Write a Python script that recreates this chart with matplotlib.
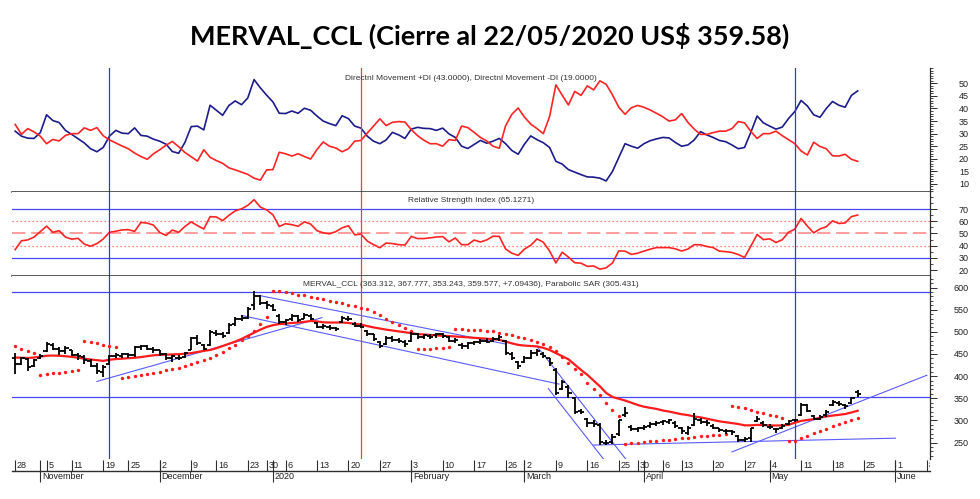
import numpy as np
import pandas as pd
import matplotlib
matplotlib.use("Agg")
import matplotlib.pyplot as plt
from matplotlib.ticker import MultipleLocator, FixedLocator

W, H, DPI = 980, 499, 100

# ---------------- calendar (trading days shown on the axis) ----------------
holidays = ["2019-11-04", "2019-11-18", "2019-12-10", "2019-12-24", "2019-12-25",
            "2019-12-31", "2020-01-01", "2020-02-24", "2020-02-25", "2020-03-23",
            "2020-03-24", "2020-03-31", "2020-04-09", "2020-04-10", "2020-05-01"]
axis_dates = pd.bdate_range("2019-10-28", "2020-06-08")
axis_dates = axis_dates[~axis_dates.isin(pd.to_datetime(holidays))]

month_names = {1: "2020", 2: "February", 3: "March", 4: "April", 5: "May",
               6: "June", 11: "November", 12: "December"}

# ---------------- data ----------------
di_plus = [31, 29, 28.2, 28.1, 30.4, 37.5, 35.2, 34.4, 31.3, 29.7,
           28, 26.3, 24, 22.8, 24.5, 29, 31.3, 30.2, 30, 32.3,
           29.3, 29, 27.8, 27, 25.8, 22.9, 22.2, 26.5, 32.8, 33,
           31.5, 41.3, 39.3, 37.3, 41.2, 43, 41.5, 44.2, 51.5, 48.2,
           45.3, 42.6, 38.1, 38, 39, 38.1, 40.1, 39.3, 37, 35,
           34, 33.2, 37.1, 36, 33, 32.2, 29, 27, 26, 27.5,
           30.5, 29.5, 28.1, 31.8, 32.5, 32.1, 32, 31.3, 32.2, 29.9,
           28.5, 25, 24.1, 25.7, 27.3, 26.2, 27, 28.1, 26, 23.3,
           21.8, 25.8, 29.1, 27.6, 26.4, 24.5, 19, 17.9, 15.7, 14.7,
           13.7, 12.8, 12.7, 12.3, 11.2, 15, 20.5, 26, 25, 24.2,
           26, 27.2, 27.9, 28.5, 28.3, 26.5, 25, 25.5, 27.5, 30.8,
           29.5, 28.5, 27.3, 26.8, 25.5, 24, 24.5, 30.5, 37, 34.3,
           33, 31.8, 32.6, 36, 38.8, 43.2, 41, 37.5, 36.5, 40,
           42.8, 41.3, 40.5, 45.2, 47]

di_minus = [33.7, 29.7, 32, 30.7, 29, 26, 27.7, 27.1, 29.3, 30,
            30, 32.3, 31.3, 32.4, 29.2, 27.5, 26.3, 25.1, 24, 22.3,
            20.9, 19.8, 22, 23.6, 25.4, 26.9, 24.8, 22.5, 20.8, 19.1,
            23.6, 20.6, 19.3, 18.2, 16.4, 15.6, 14.7, 13.8, 12.3, 11.5,
            15.6, 15.7, 22.6, 22, 21.1, 22, 20.9, 19.9, 23.7, 26.7,
            25, 24.3, 22.8, 24, 27, 27.3, 30.2, 33, 35.9, 33.2,
            34.5, 34.8, 34.6, 31.6, 29.2, 27.4, 26, 26, 25, 27.6,
            27.3, 33, 32.4, 30.5, 28.5, 27.1, 25, 24.2, 33.1, 37.7,
            40.2, 36.6, 33.8, 32, 30, 36.8, 49.4, 45.3, 41.4, 46.8,
            45.2, 49, 47.4, 51, 49.6, 45.4, 40.5, 37.7, 40.3, 41.2,
            40.5, 39.4, 38.1, 36.7, 35, 35.5, 38, 34.5, 31.8, 29.7,
            29.7, 30.4, 31, 31, 32, 34.8, 34.3, 30.9, 28.1, 30,
            30, 31, 29.2, 27.6, 26, 23.1, 21.5, 26.6, 24.9, 24,
            21.2, 21.1, 21.8, 19.8, 19]

rsi = [36.7, 44, 44.7, 47, 51.5, 56, 50.9, 52.3, 47, 45.3,
       46, 41.3, 39.5, 41.7, 45.4, 51, 51.8, 52.9, 53.1, 51.7,
       59, 58.5, 56.8, 50.8, 48.4, 52.8, 50.9, 55.7, 59.5, 56.4,
       53.7, 63.8, 63.5, 60.5, 64.9, 68.5, 70.2, 73, 77.7, 71.6,
       69.3, 65.3, 55.7, 58, 57.2, 55.9, 59.5, 57.7, 52.3, 50.5,
       49.7, 51.5, 54.6, 56.3, 48.9, 49.4, 43.8, 40.8, 38.3, 42.1,
       41.7, 40.8, 40.5, 47.6, 45.8, 45.8, 46.4, 47.1, 47.4, 43.1,
       46.3, 40.8, 40.8, 44.6, 43, 44.7, 47.7, 47.6, 37.2, 33.8,
       32, 37.2, 40.3, 45.5, 42.8, 35.6, 25.8, 34.6, 30.6, 26,
       25.6, 23, 23.3, 20.7, 21.8, 25.8, 35.7, 35.5, 32.8, 33.8,
       35.5, 37.1, 38.4, 38.4, 38.4, 37.4, 35.6, 37.2, 40.8, 40.7,
       39.3, 38.4, 35.5, 35.1, 34.4, 32.7, 30.3, 39.5, 49.2, 44.9,
       45.6, 42.6, 44.8, 51, 53.5, 62.3, 56, 50.5, 53.7, 55.5,
       60.3, 58.2, 58.6, 63.8, 65.1]

price_open = [440, 428, 438, 422, 440, 456, 470, 462, 456, 458,
              448, 444, 434, 424, 410, 428, 446, 446, 450, 447,
              466, 468, 462, 458, 450, 440, 442, 444, 460, 485,
              470, 470, 498, 494, 498, 518, 530, 532, 560, 580,
              566, 558, 535, 522, 528, 535, 530, 536, 520, 512,
              512, 508, 522, 530, 518, 514, 502, 494, 478, 472,
              486, 482, 478, 480, 494, 488, 490, 492, 494, 488,
              480, 470, 468, 474, 476, 480, 480, 484, 480, 450,
              432, 432, 440, 452, 450, 440, 414, 372, 376, 350,
              322, 304, 294, 290, 250, 252, 270, 312, 286, 280,
              282, 288, 292, 296, 296, 294, 282, 272, 290, 302,
              296, 288, 282, 276, 276, 264, 256, 260, 298, 294,
              286, 280, 282, 292, 300, 312, 334, 310, 304, 312,
              334, 340, 334, 340, 363.312]

price_high = [452, 444, 440, 438, 450, 478, 474, 465, 467, 460,
              452, 447, 438, 430, 425, 448, 452, 452, 453, 468,
              470, 470, 465, 460, 452, 448, 448, 455, 488, 492,
              472, 505, 504, 500, 520, 533, 537, 555, 593, 584,
              570, 562, 540, 530, 540, 538, 542, 540, 522, 518,
              515, 512, 536, 535, 522, 520, 505, 496, 480, 490,
              490, 486, 482, 500, 498, 496, 494, 498, 498, 490,
              486, 474, 478, 480, 484, 486, 488, 493, 482, 455,
              434, 446, 458, 462, 455, 442, 418, 392, 380, 354,
              326, 306, 300, 294, 256, 270, 302, 331, 290, 286,
              290, 296, 298, 302, 304, 298, 286, 288, 316, 306,
              300, 292, 284, 280, 278, 268, 262, 284, 310, 298,
              292, 284, 292, 300, 304, 339, 336, 312, 312, 324,
              346, 344, 338, 354, 367.777]

price_low = [405, 426, 412, 420, 438, 455, 458, 448, 450, 446,
             436, 428, 420, 404, 399, 426, 440, 442, 442, 444,
             458, 460, 452, 446, 436, 432, 436, 440, 458, 470,
             458, 468, 490, 486, 495, 514, 525, 530, 550, 560,
             552, 546, 518, 515, 525, 522, 528, 526, 508, 506,
             505, 502, 520, 525, 510, 508, 490, 480, 463, 470,
             478, 474, 466, 478, 484, 484, 484, 486, 486, 476,
             474, 462, 462, 470, 472, 474, 476, 480, 448, 436,
             416, 430, 438, 446, 440, 424, 358, 368, 350, 314,
             314, 286, 286, 244, 244, 246, 266, 308, 276, 274,
             278, 284, 288, 290, 292, 282, 270, 268, 288, 292,
             288, 280, 274, 270, 268, 252, 252, 252, 296, 286,
             280, 272, 280, 290, 296, 310, 318, 300, 300, 308,
             332, 332, 326, 338, 353.243]

price_close = [428, 440, 420, 436, 446, 472, 462, 456, 463, 448,
               445, 436, 424, 412, 420, 446, 448, 450, 447, 466,
               468, 462, 458, 450, 440, 445, 440, 452, 485, 474,
               462, 500, 494, 490, 515, 528, 532, 552, 580, 566,
               560, 550, 522, 526, 535, 526, 538, 530, 512, 514,
               508, 506, 532, 528, 514, 512, 495, 484, 468, 486,
               482, 480, 472, 496, 488, 492, 488, 494, 490, 480,
               482, 468, 474, 476, 480, 478, 484, 488, 452, 442,
               424, 440, 452, 456, 446, 430, 362, 386, 362, 318,
               320, 295, 292, 252, 248, 262, 300, 316, 280, 284,
               286, 292, 294, 298, 300, 288, 276, 284, 304, 296,
               294, 284, 278, 276, 274, 256, 258, 282, 304, 290,
               286, 280, 288, 298, 302, 334, 322, 304, 308, 320,
               342, 336, 332, 350, 359.577]

moving_avg = [442, 441.5, 441, 442, 444, 446, 446.5, 446, 445, 443.5,
              441.5, 439.5, 437.5, 436, 434.5, 437, 438.5, 439.5, 440.5, 441.5,
              443, 445, 447, 448, 448.5, 449, 449.5, 450.5, 452, 454.5,
              457, 459, 463, 468, 473, 478, 484, 491, 498, 505,
              511, 515, 517.5, 518.5, 520, 521, 522.5, 524.5, 523.5, 521.5,
              521, 521, 521, 520, 518, 516.5, 513, 510, 507.5, 505,
              503, 501, 499, 497, 495, 494, 493, 492, 491, 490.5,
              489.5, 488.5, 487.5, 486.5, 485.5, 484.5, 483.5, 482, 478, 474,
              470.5, 469, 468, 467, 464, 459, 452, 445, 438, 426,
              414, 403, 390, 377, 362, 353, 349, 345, 340, 335,
              331, 328.5, 326, 322.5, 320, 317, 314, 312, 309, 307,
              304, 301, 298, 296, 294, 292, 289, 289, 290, 289.5,
              289, 288.5, 289, 290, 295, 299, 301, 303, 306, 309,
              311, 312.6, 314.5, 318, 322]

parabolic_sar = [468, 462, 457, 453,
                 403, 404.5, 406, 407.5, 409.5, 411.5, 414,
                 480, 477, 474, 471, 468, 465,
                 396, 398, 400, 402.5, 405, 407.5, 410, 413, 416, 419.5, 423, 427,
                 431, 436.5, 441.5, 448, 455, 463, 471, 481, 491, 501, 518, 534,
                 593, 591.5, 589.5, 587, 584, 582, 579, 576.5, 573.5, 570, 567, 564,
                 561, 558, 554.5, 551, 545, 538, 530, 522, 515, 508, 503,
                 461, 461.5, 462, 463, 464, 465,
                 506, 505.5, 505, 504.5, 503.5, 502.5, 501, 497.5, 495, 492, 489,
                 485, 481, 478, 472, 465, 457, 444, 429, 416, 405, 385, 370, 357,
                 339, 324, 310,
                 246.5, 248, 249.5, 251, 252.5, 254, 255.5, 257, 258.5, 260, 261.5,
                 263, 264.5, 266, 267, 268, 269,
                 333, 330, 327, 324, 320, 317, 313, 309, 305,
                 253.5, 254, 261, 266, 271, 276, 281, 287, 292, 297, 301.5, 305.4]

# trend lines drawn on the price chart: (day index start, price start, day index end, price end)
trend_x0 = [13, 39, 36, 84.8, 83, 92, 114]
trend_y0 = [388, 581.5, 537, 372, 467, 244.5, 229]
trend_x1 = [48.8, 78, 86.5, 95.5, 98.5, 140, 145]
trend_y1 = [532, 472.5, 382, 178, 188, 260, 402]
price_hlines = [591, 352]

marker_dates = ["2019-11-20", "2020-01-22", "2020-05-08"]
marker_colors = ["#3535ff", "#ff3b3b", "#3535ff"]

rsi_levels_solid = [70, 30]
rsi_levels_dotted = [60, 40]
rsi_level_dashed = [50]

title_str = "MERVAL_CCL (Cierre al 22/05/2020 US$ 359.58)"
di_title = "Directnl Movement +DI (43.0000), Directnl Movement -DI (19.0000)"
rsi_title = "Relative Strength Index (65.1271)"
price_title = ("MERVAL_CCL (363.312, 367.777, 353.243, 359.577, +7.09436), "
               "Parabolic SAR (305.431)")

# ---------------- figure ----------------
SMALL = "Liberation Sans"
fig = plt.figure(figsize=(W / DPI, H / DPI), dpi=DPI)
fig.patch.set_facecolor("white")


def px_axes(top, bottom, left=12, right=930):
    return fig.add_axes([left / W, 1 - bottom / H, (right - left) / W, (bottom - top) / H])


def fx(xp):
    return xp / W


def fy(yp):
    return 1 - yp / H


n_axis = len(axis_dates)
xlim = (-0.5, n_axis - 0.5)
xd = np.arange(len(price_close))
date_index = {d: i for i, d in enumerate(axis_dates)}
marker_idx = [date_index[pd.Timestamp(d)] for d in marker_dates]

ax1 = px_axes(68, 192)
ax2 = px_axes(192, 276)
ax3 = px_axes(276, 459)
ax4 = px_axes(459, 499)

SEP = "#2e2e2e"
for ax in (ax1, ax2, ax3):
    ax.set_xlim(*xlim)
    ax.set_facecolor("white")
    ax.spines["left"].set_visible(False)
    ax.spines["top"].set_visible(False)
    ax.spines["right"].set_color(SEP)
    ax.spines["right"].set_linewidth(0.9)
    ax.spines["bottom"].set_color(SEP)
    ax.spines["bottom"].set_linewidth(1.1)
    ax.set_xticks([])
    ax.yaxis.tick_right()
    ax.tick_params(axis="y", which="major", length=5, width=0.7, color=SEP,
                   labelsize=6.5, labelcolor="#222222", pad=23)
    ax.tick_params(axis="y", which="minor", length=2.5, width=0.6, color=SEP)
ax3.spines["bottom"].set_visible(False)

# ---- DI panel ----
ax1.set_ylim(6.8, 56.1)
ax1.plot(xd, di_plus, color="#1c1c8a", lw=1.2)
ax1.plot(xd, di_minus, color="#ff2424", lw=1.2)
ax1.yaxis.set_major_locator(FixedLocator(np.arange(10, 51, 5)))
ax1.yaxis.set_minor_locator(MultipleLocator(1))

# ---- RSI panel ----
ax2.set_ylim(15.1, 84)
for lv in rsi_levels_solid:
    ax2.axhline(lv, color="#4646ff", lw=0.9)
for lv in rsi_levels_dotted:
    ax2.axhline(lv, color="#ff5a5a", lw=0.9, ls=(0, (1, 2.2)))
for lv in rsi_level_dashed:
    ax2.axhline(lv, color="#ff8c8c", lw=1.2, ls=(0, (8, 3.5)))
ax2.plot(xd, rsi, color="#ff2424", lw=1.2)
ax2.yaxis.set_major_locator(FixedLocator(np.arange(20, 71, 10)))
ax2.yaxis.set_minor_locator(MultipleLocator(5))

# ---- Price panel ----
ax3.set_ylim(213, 626)
for lv in price_hlines:
    ax3.axhline(lv, color="#4646ff", lw=0.9)
for a, b, c, d in zip(trend_x0, trend_y0, trend_x1, trend_y1):
    ax3.plot([a, c], [b, d], color="#5b5bff", lw=0.8)
ax3.plot(xd, moving_avg, color="#ff1c1c", lw=1.6, zorder=3)
ax3.scatter(xd, parabolic_sar, s=6, color="#ff1c1c", linewidths=0, zorder=3)
ax3.vlines(xd, price_low, price_high, color="black", lw=1.3, zorder=4)
ax3.hlines(price_open, xd - 0.5, xd, color="black", lw=1.3, zorder=4)
ax3.hlines(price_close, xd, xd + 0.5, color="black", lw=1.3, zorder=4)
ax3.yaxis.set_major_locator(FixedLocator(np.arange(250, 601, 50)))
ax3.yaxis.set_minor_locator(MultipleLocator(10))

for ax in (ax1, ax2, ax3):
    for lbl in ax.get_yticklabels():
        lbl.set_horizontalalignment("right")
        lbl.set_fontfamily(SMALL)

# vertical markers
for mi, mc in zip(marker_idx, marker_colors):
    for ax in (ax1, ax2, ax3):
        ax.axvline(mi, color=mc, lw=0.9, zorder=2)

# panel titles
fig.text(fx(471), fy(79), di_title, ha="center", va="center", fontsize=6,
         family=SMALL, color="#333333")
fig.text(fx(471), fy(200), rsi_title, ha="center", va="center", fontsize=6,
         family=SMALL, color="#333333")
fig.text(fx(471), fy(284.5), price_title, ha="center", va="center", fontsize=6,
         family=SMALL, color="#333333")

# ---- date strip ----
ax4.set_xlim(*xlim)
ax4.set_ylim(499, 459)
ax4.axis("off")
ax4.plot(list(xlim), [471, 471], color=SEP, lw=1.0, clip_on=False)
ser = pd.Series(np.arange(n_axis), index=axis_dates)
week_first = ser.groupby([axis_dates.isocalendar().year.values,
                          axis_dates.isocalendar().week.values]).min()
for i in week_first.values:
    ax4.vlines(i, 460, 471, color=SEP, lw=0.8)
    ax4.text(i + 0.3, 465.5, str(axis_dates[i].day), fontsize=6.5, family=SMALL,
             ha="left", va="center", color="#222222", clip_on=True)
month_first = ser.groupby([axis_dates.year, axis_dates.month]).min()
for i in month_first.values[1:]:
    ax4.vlines(i, 460, 482, color=SEP, lw=0.8)
    ax4.text(i + 0.3, 477, month_names[axis_dates[i].month], fontsize=6.5,
             family=SMALL, ha="left", va="center", color="#222222", clip_on=True)

# ---- title ----
t = fig.text(0.5, fy(45), title_str, ha="center", va="baseline", fontsize=20,
             fontweight="bold", family="Lato", color="black")
fig.canvas.draw()
bw = t.get_window_extent().width
t.set_fontsize(20 * 600.0 / bw)

fig.savefig("out.png", dpi=DPI, facecolor="white")
